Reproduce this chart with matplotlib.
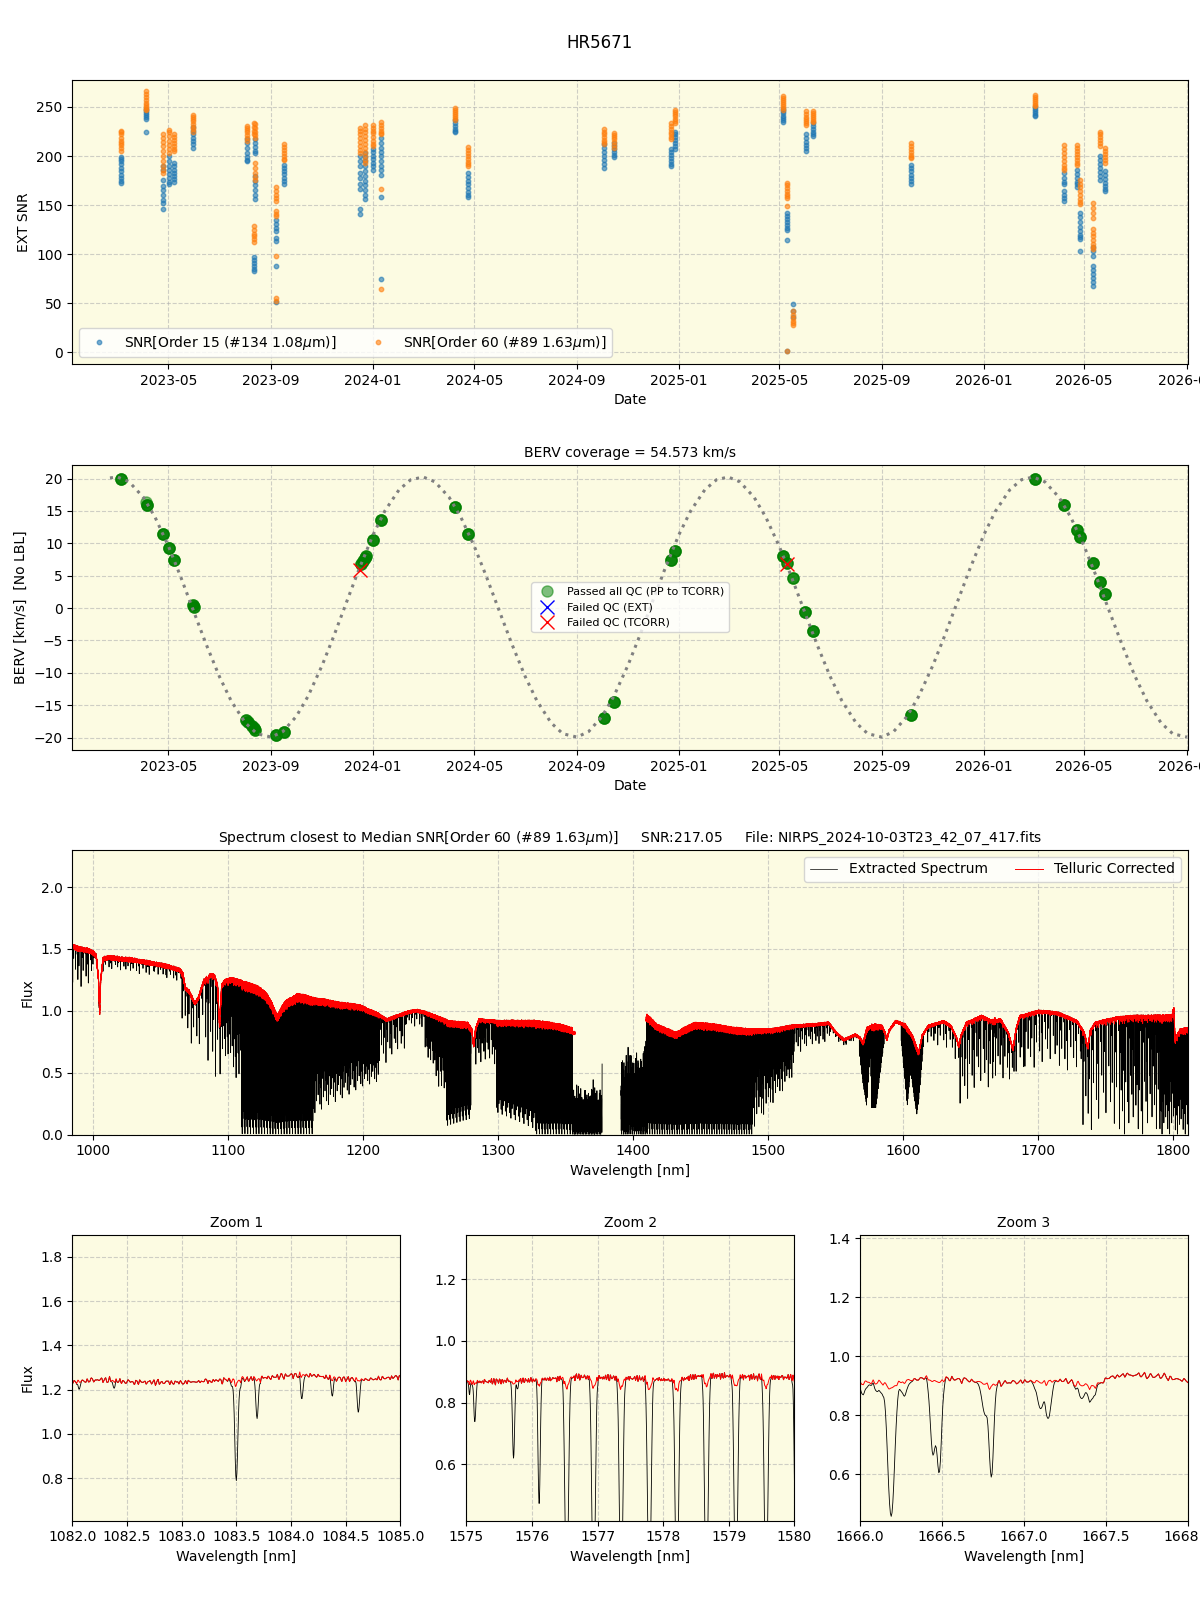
import numpy as np
import pandas as pd
import matplotlib
matplotlib.use('Agg')
import matplotlib.pyplot as plt
import matplotlib.dates as mdates

plt.rcParams['path.simplify'] = False
BG = '#fcfbe2'

# ---------------- Panel 1 : EXT SNR per epoch ----------------
snr_dates = ['2023-03-05', '2023-04-04', '2023-04-25', '2023-05-02', '2023-05-08', '2023-05-30',
             '2023-08-03', '2023-08-11', '2023-08-13', '2023-09-07', '2023-09-16',
             '2023-12-16', '2023-12-22', '2024-01-01', '2024-01-11', '2024-04-08', '2024-04-23',
             '2024-10-03', '2024-10-15', '2024-12-22', '2024-12-27',
             '2025-05-06', '2025-05-10', '2025-05-17', '2025-06-02', '2025-06-10', '2025-10-06',
             '2026-03-03', '2026-04-07', '2026-04-22', '2026-04-26', '2026-05-11', '2026-05-20',
             '2026-05-26']
snr_order15 = [
    [199, 197, 195, 192, 188, 185, 181, 178, 175, 173],
    [248, 246, 244, 242, 240, 238, 225],
    [190, 186, 176, 169, 165, 160, 155, 152, 146],
    [200, 195, 190, 186, 182, 178, 174, 171],
    [193, 190, 186, 183, 180, 177, 174],
    [230, 226, 222, 218, 215, 212, 208],
    [217, 213, 208, 203, 199, 196, 195],
    [97, 94, 91, 88, 85, 83],
    [217, 213, 209, 205, 203, 180, 175, 170, 165, 160, 156],
    [135, 131, 127, 124, 116, 113, 88, 51],
    [191, 188, 185, 182, 178, 175, 171],
    [200, 195, 190, 183, 178, 172, 166, 146, 141],
    [203, 199, 195, 190, 185, 180, 175, 170, 165, 160, 156],
    [207, 204, 200, 197, 193, 190, 186],
    [218, 213, 208, 204, 200, 195, 190, 186, 181, 158, 75],
    [237, 234, 231, 228, 226, 224],
    [183, 179, 175, 171, 167, 163, 160, 158],
    [212, 208, 204, 200, 196, 192, 188],
    [213, 210, 207, 204, 201, 199],
    [207, 204, 201, 198, 195, 192, 190],
    [225, 222, 219, 216, 213, 210, 207],
    [248, 246, 244, 241, 239, 237, 235],
    [142, 139, 136, 133, 130, 127, 125, 114, 1],
    [49, 42, 36],
    [222, 218, 214, 211, 208, 205],
    [234, 231, 228, 225, 222, 220],
    [191, 188, 185, 181, 178, 175, 171],
    [250, 248, 246, 244, 242, 241],
    [183, 178, 174, 172, 164, 160, 157, 154],
    [186, 182, 178, 174, 171, 168],
    [142, 138, 133, 128, 124, 120, 117, 115, 103],
    [107, 103, 98, 88, 84, 80, 76, 72, 68],
    [200, 196, 192, 188, 184, 180, 176],
    [185, 181, 177, 173, 169, 166, 164],
]
snr_order60 = [
    [226, 224, 222, 218, 215, 213, 211, 208, 205],
    [266, 263, 260, 257, 254, 252, 250, 248, 247],
    [222, 218, 214, 210, 205, 200, 195, 190, 186, 183],
    [227, 224, 220, 215, 211, 207, 203],
    [222, 219, 216, 213, 210, 207, 205],
    [242, 240, 238, 236, 233, 230, 228, 225],
    [231, 229, 227, 224, 221, 218, 215],
    [234, 230, 226, 222, 129, 125, 121, 118, 115, 112],
    [233, 229, 225, 221, 218, 193, 188, 183, 179, 176],
    [168, 164, 160, 157, 154, 144, 141, 139, 98, 55, 52],
    [212, 209, 206, 203, 200, 197, 196],
    [229, 226, 222, 218, 214, 210, 206, 203],
    [232, 228, 224, 220, 216, 212, 208, 204, 200, 196, 193],
    [232, 229, 226, 223, 219, 215, 212, 210],
    [235, 232, 229, 226, 223, 222, 166, 64],
    [249, 247, 245, 243, 241, 239, 237],
    [209, 206, 203, 200, 197, 194, 192, 190],
    [228, 225, 222, 219, 216, 214, 212],
    [223, 221, 219, 217, 214, 211, 208],
    [234, 231, 228, 225, 222, 219, 217],
    [247, 245, 243, 241, 238, 236, 234],
    [261, 259, 257, 255, 253, 251, 249, 247],
    [173, 170, 167, 164, 161, 159, 157, 149, 1],
    [42, 38, 35, 32, 30, 28],
    [246, 243, 240, 238, 236, 234, 232],
    [246, 244, 242, 240, 238, 236, 235],
    [213, 210, 207, 204, 201, 199, 198],
    [262, 260, 258, 256, 254, 252, 251],
    [211, 207, 203, 199, 195, 191, 188, 186],
    [211, 208, 205, 202, 199, 196, 193, 191],
    [176, 172, 168, 164, 160, 156, 153, 151],
    [152, 147, 142, 137, 126, 122, 118, 114, 110, 107, 105],
    [225, 222, 219, 216, 213, 210],
    [208, 205, 202, 199, 196, 193],
]
label15 = r'SNR[Order 15 (#134 1.08$\mu$m)]'
label60 = r'SNR[Order 60 (#89 1.63$\mu$m)]'

# ---------------- Panel 2 : BERV ----------------
passed_dates = ['2023-03-05', '2023-04-04', '2023-04-05', '2023-04-25', '2023-05-02', '2023-05-08',
                '2023-05-30', '2023-05-31', '2023-08-02', '2023-08-04', '2023-08-09', '2023-08-11',
                '2023-08-13', '2023-09-07', '2023-09-16', '2023-12-18', '2023-12-20', '2023-12-22',
                '2023-12-23', '2024-01-01', '2024-01-11', '2024-04-08', '2024-04-23', '2024-10-03',
                '2024-10-15', '2024-12-22', '2024-12-27', '2025-05-06', '2025-05-10', '2025-05-17',
                '2025-06-01', '2025-06-10', '2025-10-06', '2026-03-03', '2026-04-07', '2026-04-22',
                '2026-04-26', '2026-05-11', '2026-05-20', '2026-05-26']
passed_berv = [20.0, 16.4, 15.9, 11.4, 9.3, 7.5,
               0.5, 0.2, -17.3, -17.6, -18.2, -18.5,
               -18.8, -19.6, -19.2, 6.8, 7.3, 7.7,
               8.1, 10.5, 13.6, 15.6, 11.5, -16.9,
               -14.5, 7.5, 8.8, 8.0, 7.0, 4.6,
               -0.6, -3.5, -16.5, 20.0, 15.9, 12.1,
               11.0, 7.0, 4.0, 2.1]
# number of exposures stacked at each of those points
passed_nobs = [4, 1, 4, 4, 4, 4,
               3, 3, 3, 3, 3, 3,
               3, 4, 4, 3, 3, 3,
               3, 4, 4, 4, 4, 4,
               4, 4, 4, 4, 3, 3,
               4, 4, 4, 4, 4, 4,
               4, 4, 4, 4]
failed_ext_dates = []
failed_ext_berv = []
failed_tcorr_dates = ['2023-12-16', '2025-05-10']
failed_tcorr_berv = [5.9, 6.8]
berv_coverage = 54.573

# BERV model curve, read at the 1st and 15th of each month
curve_start = ['2023-02-20']
curve_vals = ([20.10, 20.24, 19.49, 17.10, 14.03, 9.56, 5.05, -0.78, -5.54, -10.57, -14.31,
               -17.72, -19.40, -19.92, -19.06, -16.73, -13.63, -8.83, -4.29, 1.21, 5.97] +
              [11.34, 15.00, 18.27, 19.82, 20.24, 19.49, 17.10, 14.03, 9.56, 5.05, -0.78, -5.54,
               -10.57, -14.31, -17.72, -19.40, -19.92, -19.06, -16.73, -13.63, -8.83, -4.29, 1.21, 5.97] +
              [11.34, 15.00, 18.27, 19.82, 20.24, 19.49, 17.10, 14.03, 9.56, 5.05, -0.78, -5.54,
               -10.57, -14.31, -17.72, -19.40, -19.92, -19.06, -16.73, -13.63, -8.83, -4.29, 1.21, 5.97] +
              [11.34, 15.00, 18.27, 19.82, 20.24, 19.49, 17.10, 14.03, 9.56, 5.05, -0.78, -5.54,
               -10.57, -14.31, -17.72, -19.40, -19.92])

# ---------------- Panel 3 : spectrum ----------------
spec_title = (r'Spectrum closest to Median SNR[Order 60 (#89 1.63$\mu$m)]     SNR:217.05     '
              'File: NIRPS_2024-10-03T23_42_07_417.fits')
# continuum of the telluric-corrected spectrum (nm, flux)
cont_wl = [985.0, 990, 996, 1000, 1002.5, 1004.2, 1005.0, 1005.8, 1007.5, 1012, 1020, 1030, 1040,
           1046, 1055, 1064, 1066.5, 1068.5, 1071, 1075.5, 1078, 1082.0, 1082.25, 1082.5, 1083.0,
           1083.4, 1083.75, 1084.0, 1084.2, 1084.4, 1084.7, 1085.0, 1087, 1090, 1092.3, 1093.8,
           1095.3, 1097.5, 1102, 1110, 1116.5, 1122, 1128, 1132, 1136.5, 1140, 1143, 1151.7, 1158,
           1166, 1174, 1181, 1190, 1198.5, 1205, 1210, 1217.6, 1222, 1228, 1234, 1239.5, 1246,
           1254, 1263, 1270, 1277.6, 1280.5, 1281.9, 1283.3, 1285.8, 1298, 1310, 1327, 1338, 1345,
           1353.7, 1360, 1380, 1400, 1409.6, 1417.5, 1425, 1431.7, 1438, 1445.8, 1460, 1474, 1488,
           1502.4, 1516.5, 1533.5, 1544.8, 1550.5, 1556, 1564.6, 1568, 1570.3, 1573, 1575.0, 1576.0,
           1576.7, 1577.6, 1578.2, 1578.6, 1579.5, 1580.0, 1584.4, 1586.5, 1587.8, 1589.5, 1594.3,
           1601.4, 1607, 1611.3, 1614, 1618.4, 1629.7, 1635.4, 1639.5, 1641, 1642.8, 1646.7, 1658,
           1666.0, 1666.22, 1666.42, 1666.62, 1666.81, 1667.02, 1667.23, 1667.42, 1667.54, 1667.64,
           1667.85, 1668.0, 1672, 1677.8, 1681.2, 1683.5, 1686.3, 1700.4, 1714.6, 1728.7, 1734,
           1736.6, 1738.5, 1742, 1757, 1771, 1785, 1799, 1800.3, 1801.2, 1805, 1812]
cont_flux = [1.52, 1.50, 1.49, 1.47, 1.44, 1.25, 0.97, 1.25, 1.42, 1.43, 1.42, 1.41, 1.39,
             1.38, 1.36, 1.33, 1.30, 1.18, 1.16, 1.06, 1.10, 1.235, 1.245, 1.235, 1.232,
             1.243, 1.252, 1.265, 1.265, 1.25, 1.245, 1.258, 1.29, 1.28, 1.20, 0.87,
             1.20, 1.24, 1.255, 1.235, 1.21, 1.19, 1.14, 1.07, 0.955, 1.03, 1.075, 1.13, 1.115,
             1.09, 1.08, 1.06, 1.05, 1.035, 1.00, 0.98, 0.927, 0.945, 0.97, 0.99, 1.003, 0.985,
             0.954, 0.914, 0.905, 0.90, 0.85, 0.71, 0.85, 0.927, 0.914, 0.915, 0.914, 0.90, 0.887,
             0.86, 0.85, 0.86, 0.90, 0.97, 0.887, 0.85, 0.82, 0.86, 0.90, 0.887, 0.86, 0.847,
             0.847, 0.874, 0.887, 0.90, 0.82, 0.766, 0.806, 0.78, 0.74, 0.86, 0.866, 0.872,
             0.883, 0.878, 0.872, 0.888, 0.882, 0.882, 0.874, 0.82, 0.766, 0.84, 0.914,
             0.887, 0.79, 0.66, 0.80, 0.874, 0.914, 0.874, 0.78, 0.71, 0.80, 0.90, 0.954,
             0.912, 0.911, 0.928, 0.92, 0.908, 0.914, 0.918, 0.897, 0.931, 0.937,
             0.931, 0.914, 0.927, 0.82, 0.685, 0.85, 0.954, 0.995, 0.98, 0.914, 0.82,
             0.70, 0.84, 0.90, 0.94, 0.954, 0.954, 0.96, 1.02, 0.77, 0.847, 0.86]
red_ranges = [(984.0, 1357.0), (1409.6, 1812.0)]
black_ranges = [(984.0, 1377.0), (1391.0, 1812.0)]

# telluric forests:
# (start, end, line spacing, depth at start, depth at end, line width, regular band)
forest_bands = [
    (985.0, 1000.0, 1.0, 0.20, 0.20, 0.015, False),
    (1000.0, 1066.0, 1.2, 0.07, 0.07, 0.015, False),
    (1066.0, 1081.8, 1.1, 0.30, 0.40, 0.015, False),
    (1085.2, 1096.0, 0.9, 0.55, 0.70, 0.015, False),
    (1096.0, 1110.0, 0.35, 0.45, 0.70, 0.015, False),
    (1110.0, 1163.0, 0.09, 1.00, 1.00, 0.012, False),
    (1163.0, 1212.0, 0.22, 0.85, 0.55, 0.013, False),
    (1212.0, 1232.0, 0.8, 0.40, 0.30, 0.015, False),
    (1232.0, 1246.0, 1.0, 0.10, 0.15, 0.015, False),
    (1246.0, 1262.0, 0.35, 0.30, 0.75, 0.015, False),
    (1262.0, 1280.0, 0.10, 0.92, 0.85, 0.014, False),
    (1283.5, 1299.0, 0.6, 0.35, 0.40, 0.015, False),
    (1299.0, 1328.0, 0.14, 0.80, 0.95, 0.013, False),
    (1328.0, 1355.0, 0.09, 1.00, 1.00, 0.013, False),
    (1355.0, 1377.0, 0.05, 1.00, 1.00, 0.04, False),
    (1391.0, 1410.0, 0.06, 1.00, 1.00, 0.035, False),
    (1410.0, 1488.0, 0.08, 1.00, 1.00, 0.013, False),
    (1488.0, 1519.0, 0.3, 0.95, 0.45, 0.015, False),
    (1519.0, 1546.0, 0.8, 0.25, 0.15, 0.015, False),
    (1546.0, 1566.0, 1.0, 0.06, 0.06, 0.015, False),
    (1618.0, 1642.0, 1.2, 0.15, 0.30, 0.015, False),
    (1642.0, 1665.8, 0.9, 0.70, 0.60, 0.015, False),
    (1668.2, 1690.0, 0.9, 0.50, 0.45, 0.015, False),
    (1690.0, 1733.0, 1.1, 0.45, 0.45, 0.015, False),
    (1733.0, 1760.0, 1.0, 0.95, 0.95, 0.015, False),
    (1760.0, 1790.0, 0.6, 1.00, 1.00, 0.015, False),
    (1790.0, 1812.0, 0.25, 1.00, 1.00, 0.015, False),
    (1567.5, 1572.8, 0.38, 0.15, 0.72, 0.02, True),
    (1572.8, 1574.8, 0.38, 0.72, 0.35, 0.02, True),
    (1580.03, 1586.0, 0.47, 0.72, 0.10, 0.02, True),
    (1598.5, 1603.0, 0.38, 0.15, 0.72, 0.02, True),
    (1603.0, 1605.5, 0.40, 0.72, 0.35, 0.02, True),
    (1605.8, 1610.0, 0.45, 0.40, 0.76, 0.02, True),
    (1610.0, 1615.0, 0.48, 0.76, 0.10, 0.02, True),
]
depth_pattern = [0.95, 0.30, 0.62, 0.12, 0.80, 0.45, 1.00, 0.22, 0.55, 0.08, 0.72, 0.38,
                 0.90, 0.18, 0.50, 0.66, 0.28, 0.85, 0.05, 0.42, 0.75, 0.15, 0.58]
offset_pattern = [0.1, -0.6, 0.4, 0.9, -0.3, -0.8, 0.6, 0.0, -0.5, 0.8, -0.1, 0.3, -0.9, 0.5,
                  -0.2, 0.7, -0.4]
# individual lines read in the three zoom windows: (centre nm, depth, width nm)
zoom_lines = [
    (1082.06, 0.03, 0.010), (1082.38, 0.025, 0.010), (1083.50, 0.04, 0.030),
    (1083.50, 0.34, 0.012), (1083.69, 0.145, 0.011), (1084.10, 0.085, 0.011),
    (1084.378, 0.06, 0.010), (1084.616, 0.12, 0.011),
    (1575.05, 0.04, 0.012), (1575.13, 0.15, 0.015), (1575.72, 0.29, 0.015),
    (1575.78, 0.03, 0.012), (1576.11, 0.46, 0.015), (1576.53, 0.75, 0.022),
    (1576.94, 0.75, 0.022), (1577.36, 0.75, 0.022), (1577.79, 0.75, 0.022),
    (1578.21, 0.75, 0.022), (1578.66, 0.75, 0.022), (1579.11, 0.75, 0.022),
    (1579.57, 0.75, 0.022),
    (1666.02, 0.04, 0.020), (1666.12, 0.04, 0.025), (1666.19, 0.50, 0.018),
    (1666.27, 0.05, 0.020), (1666.445, 0.28, 0.015), (1666.483, 0.34, 0.013),
    (1666.765, 0.12, 0.020), (1666.802, 0.34, 0.012), (1667.10, 0.10, 0.020),
    (1667.15, 0.14, 0.015), (1667.35, 0.05, 0.020), (1667.41, 0.055, 0.020),
]
ripple_a = [0.3, -0.8, 0.5, 0.9, -0.2, -0.6, 0.7, -0.9, 0.1, 0.4, -0.4, 0.8, -0.7, 0.2, 0.6,
            -0.3, -1.0, 0.9, -0.1, 0.5, -0.5, 0.2, 0.7, -0.8, 0.0, 0.6, -0.6, 0.3, -0.2]
ripple_b = [-0.5, 0.7, 0.1, -0.9, 0.4, 0.8, -0.3, -0.6, 0.9, 0.0, -0.8, 0.5, 0.3, -0.4, -0.1,
            0.7, -0.7, 0.2, 1.0, -0.5, -0.2, 0.6, -0.9, 0.4, 0.1, -0.3, 0.8, -0.6, 0.2, 0.5,
            -1.0, 0.3, 0.6, -0.4, 0.0, 0.9, -0.7]
zooms = [('Zoom 1', (1082.0, 1085.0), (0.608, 1.90)),
         ('Zoom 2', (1575.0, 1580.0), (0.417, 1.344)),
         ('Zoom 3', (1666.0, 1668.0), (0.443, 1.411))]

# ---------------- build spectrum from the read values ----------------
wl = np.arange(984.0, 1812.0, 0.005)
order = np.argsort(cont_wl)
cont = np.interp(wl, np.asarray(cont_wl)[order], np.asarray(cont_flux)[order])
wl_c = np.arange(984.0, 1812.0, 0.012)
rip_c = 0.5 * (np.resize(ripple_a, wl_c.size) + np.resize(ripple_b, wl_c.size))
rip = np.interp(wl, wl_c, rip_c) * 0.016
tau = np.zeros(wl.size)


def add_line(c, depth, sig):
    t = -np.log(max(1.0 - depth, 0.006))
    i0, i1 = np.searchsorted(wl, [c - 6 * sig, c + 6 * sig])
    x = wl[i0:i1]
    tau[i0:i1] += t * np.exp(-0.5 * ((x - c) / sig) ** 2)


for (w0, w1, step, d0, d1, sig, regular) in forest_bands:
    centres = np.arange(w0, w1, step)
    for k, c in enumerate(centres):
        dm = d0 + (d1 - d0) * (c - w0) / max(w1 - w0, 1e-9)
        if regular:
            add_line(c, dm, sig)
        else:
            cc = c + 0.4 * step * offset_pattern[k % len(offset_pattern)]
            add_line(cc, dm * depth_pattern[k % len(depth_pattern)], sig)
for (c, d, s) in zoom_lines:
    add_line(c, d, s)

trans = np.exp(-tau)
star = cont * (1.0 + rip)
black = star * trans
red = star * (1.0 - 0.05 * (1.0 - trans))
bmask = np.zeros(wl.size, bool)
for a, b in black_ranges:
    bmask |= (wl >= a) & (wl <= b)
rmask = np.zeros(wl.size, bool)
for a, b in red_ranges:
    rmask |= (wl >= a) & (wl <= b)
black = np.where(bmask, black, np.nan)
red = np.where(rmask, red, np.nan)

# ---------------- figure ----------------
fig = plt.figure(figsize=(12, 16), dpi=100)
fig.suptitle('HR5671', y=0.979, fontsize=12)

W = 0.9295
L = 0.0603
ax1 = fig.add_axes([L, 0.7725, W, 0.1778])
ax2 = fig.add_axes([L, 0.5313, W, 0.1781])
ax3 = fig.add_axes([L, 0.2908, W, 0.1780])
zw = 0.2733
zax = [fig.add_axes([x0, 0.0496, zw, 0.1786]) for x0 in (0.0603, 0.3886, 0.7167)]

for ax in [ax1, ax2, ax3] + zax:
    ax.set_facecolor(BG)
    ax.grid(True, linestyle='--', color='#b0b0b0', alpha=0.6, linewidth=0.8)
    ax.set_axisbelow(True)

xlim_dates = (pd.Timestamp('2023-01-06'), pd.Timestamp('2026-09-02'))

# Panel 1
d15 = [pd.Timestamp(d) for d, v in zip(snr_dates, snr_order15) for _ in v]
v15 = [x for v in snr_order15 for x in v]
d60 = [pd.Timestamp(d) for d, v in zip(snr_dates, snr_order60) for _ in v]
v60 = [x for v in snr_order60 for x in v]
ax1.plot(d15, v15, 'o', ms=3.2, alpha=0.6, color='C0', label=label15, lw=0)
ax1.plot(d60, v60, 'o', ms=3.2, alpha=0.6, color='C1', label=label60, lw=0)
ax1.set_ylabel('EXT SNR')
ax1.set_xlabel('Date')
ax1.set_ylim(-12, 278)
ax1.legend(loc='lower left', ncol=2, fontsize=10)

# Panel 2
pd_x = [pd.Timestamp(d) for d, n in zip(passed_dates, passed_nobs) for _ in range(n)]
pd_y = [b for b, n in zip(passed_berv, passed_nobs) for _ in range(n)]
ax2.plot(pd_x, pd_y, 'o', color='green', alpha=0.5, ms=8,
         lw=0, label='Passed all QC (PP to TCORR)', zorder=2)
ax2.plot(pd.to_datetime(failed_ext_dates), failed_ext_berv, 'x', color='blue', ms=10,
         lw=0, label='Failed QC (EXT)', zorder=4)
ax2.plot(pd.to_datetime(failed_tcorr_dates), failed_tcorr_berv, 'x', color='red', ms=10,
         lw=0, label='Failed QC (TCORR)', zorder=4)
curve_dates = [pd.Timestamp(d) for d in curve_start]
for y in range(2023, 2027):
    for m in range(1, 13):
        for dd in (1, 15):
            t = pd.Timestamp(year=y, month=m, day=dd)
            if pd.Timestamp('2023-03-01') <= t <= pd.Timestamp('2026-09-01'):
                curve_dates.append(t)
ax2.plot(curve_dates, curve_vals, ':', color='gray', lw=2.2, zorder=3)
ax2.set_title(f'BERV coverage = {berv_coverage:.3f} km/s', fontsize=10)
ax2.set_ylabel('BERV [km/s]  [No LBL]')
ax2.set_xlabel('Date')
ax2.set_ylim(-21.9, 22.1)
ax2.legend(loc='center', fontsize=8)

for ax in (ax1, ax2):
    ax.set_xlim(*xlim_dates)
    ax.xaxis.set_major_locator(mdates.MonthLocator(bymonth=[1, 5, 9]))
    ax.xaxis.set_major_formatter(mdates.DateFormatter('%Y-%m'))

# Panel 3
ax3.plot(wl, black, color='black', lw=0.6, label='Extracted Spectrum')
ax3.plot(wl, red, color='red', lw=0.7, label='Telluric Corrected')
ax3.set_xlim(984.8, 1810.6)
ax3.set_ylim(0, 2.3)
ax3.set_title(spec_title, fontsize=10)
ax3.set_xlabel('Wavelength [nm]')
ax3.set_ylabel('Flux')
leg = ax3.legend(loc='upper right', ncol=2, fontsize=10)
leg.get_lines()[0].set_linewidth(0.5)

# Zoom panels
for ax, (name, xl, yl) in zip(zax, zooms):
    sel = (wl >= xl[0] - 0.05) & (wl <= xl[1] + 0.05)
    ax.plot(wl[sel], black[sel], color='black', lw=0.6)
    ax.plot(wl[sel], red[sel], color='red', lw=0.7)
    ax.set_xlim(*xl)
    ax.set_ylim(*yl)
    ax.set_title(name, fontsize=10)
    ax.set_xlabel('Wavelength [nm]')
zax[0].set_ylabel('Flux')

fig.savefig('out.png', dpi=100, facecolor='white')
